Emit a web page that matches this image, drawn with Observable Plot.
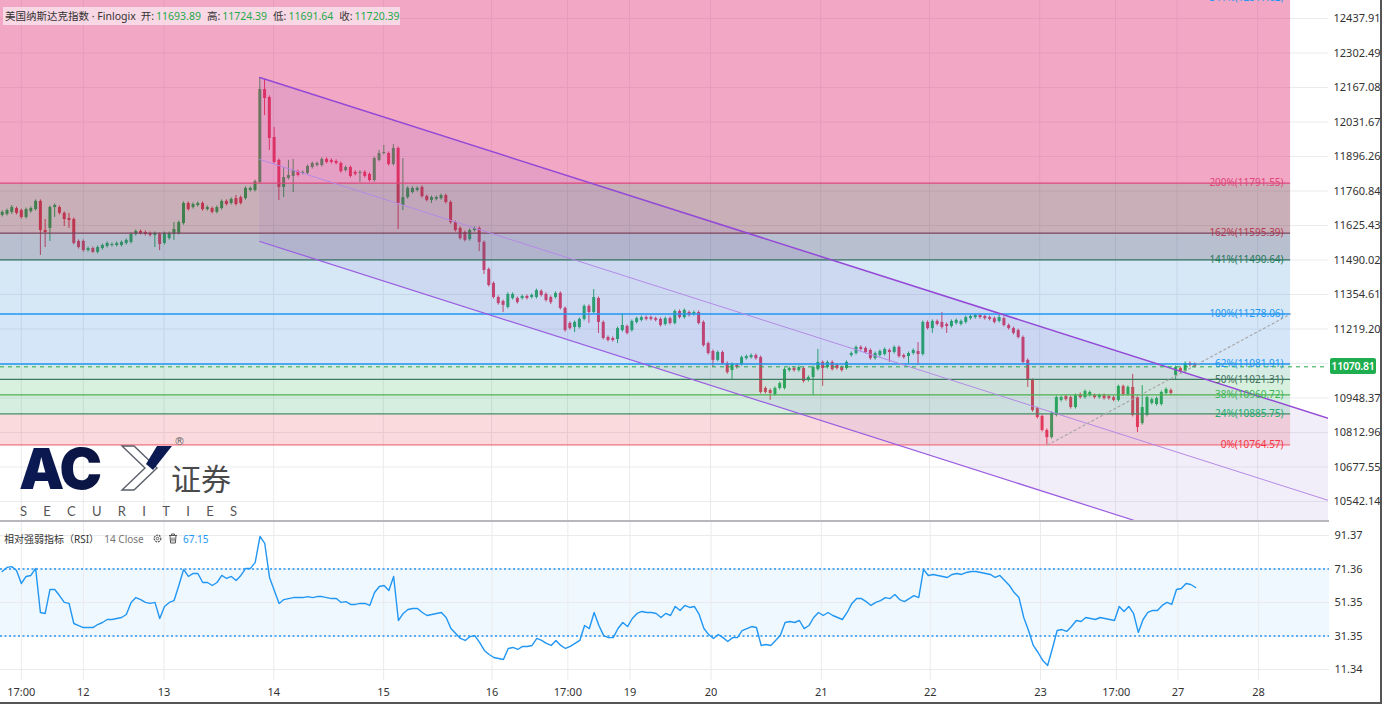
<!DOCTYPE html>
<html><head><meta charset="utf-8">
<script src="https://cdn.jsdelivr.net/npm/d3@7"></script>
<script src="https://cdn.jsdelivr.net/npm/@observablehq/plot@0.6"></script>
<style>
html,body{margin:0;padding:0;background:#fff;}
body{width:1382px;height:704px;position:relative;overflow:hidden;font-family:"Noto Sans","Noto Sans CJK SC",sans-serif;}
#main,#rsi{position:absolute;left:0;}
#main{top:0;} #rsi{top:522px;}
.ov{position:absolute;white-space:nowrap;}
.hv{margin-left:2px;margin-right:6px;color:#22ab4a;}
</style></head><body>
<div id="main"></div>
<div id="rsi"></div>
<script>
// ---------- DATA (hourly bars) ----------
const open = [
11665,11669,11677,11692,11684,11657,11680,11688,11720,11606,
11614,11696,11696,11673,11653,11649,11563,11563,11527,11535,
11520,11535,11543,11547,11547,11547,11555,11559,11590,11602,
11598,11594,11586,11590,11555,11574,11590,11594,11633,11712,
11696,11704,11712,11688,11692,11677,11692,11720,11712,11731,
11735,11731,11763,11763,11794,12159,12128,11971,11881,11775,
11810,11818,11837,11830,11830,11853,11861,11861,11885,11881,
11877,11869,11841,11853,11834,11830,11834,11826,11802,11881,
11908,11908,11865,11928,11704,11735,11755,11763,11775,11739,
11724,11728,11731,11743,11716,11637,11614,11598,11570,11606,
11614,11559,11453,11398,11343,11327,11304,11339,11339,11339,
11347,11343,11343,11367,11355,11343,11343,11359,11300,11241,
11225,11225,11257,11308,11284,11339,11245,11186,11182,11178,
11213,11229,11213,11245,11253,11264,11264,11260,11257,11237,
11260,11241,11288,11264,11284,11276,11284,11245,11162,11131,
11096,11127,11084,11056,11076,11080,11103,11107,11115,11107,
10986,10978,10962,10986,10986,11056,11064,11056,11064,11017,
11029,11060,11088,11068,11088,11076,11068,11064,11115,11123,
11147,11143,11135,11103,11115,11119,11135,11127,11147,11115,
11111,11123,11131,11119,11245,11221,11249,11245,11237,11229,
11241,11237,11245,11260,11264,11272,11268,11264,11260,11249,
11260,11233,11221,11213,11186,11096,11017,10907,10876,10821,
10793,10880,10939,10954,10950,10911,10962,10950,10958,10958,
10950,10958,10954,10950,10939,10994,10962,10990,10950,10848,
10880,10927,10923,10923,10966,10978,11037,11064,11052,11084,
11080];
const high = [
11683,11690,11704,11698,11690,11694,11698,11726,11726,11649,
11702,11710,11702,11679,11673,11655,11569,11569,11541,11541,
11545,11553,11561,11557,11561,11565,11573,11596,11608,11608,
11604,11600,11600,11596,11600,11600,11637,11643,11718,11718,
11714,11718,11718,11702,11698,11702,11726,11726,11734,11743,
11741,11777,11777,11804,12206,12199,12134,12010,11887,11853,
11881,11885,11843,11840,11863,11875,11875,11891,11891,11887,
11883,11875,11859,11859,11840,11840,11840,11832,11894,11920,
11940,11914,11943,11934,11888,11777,11777,11777,11781,11745,
11741,11741,11749,11749,11722,11643,11620,11604,11612,11620,
11620,11565,11459,11404,11349,11333,11361,11361,11345,11353,
11353,11357,11376,11373,11361,11349,11365,11365,11306,11247,
11251,11263,11314,11314,11374,11345,11251,11192,11188,11227,
11280,11235,11255,11266,11270,11270,11270,11266,11263,11266,
11266,11294,11294,11298,11290,11290,11290,11251,11168,11137,
11133,11133,11090,11086,11082,11113,11117,11121,11121,11113,
10992,10984,10992,11011,11066,11070,11070,11074,11070,11035,
11074,11139,11094,11094,11094,11082,11074,11094,11129,11153,
11153,11149,11141,11129,11137,11145,11141,11153,11153,11121,
11129,11141,11166,11251,11251,11255,11255,11284,11243,11255,
11259,11255,11270,11274,11278,11278,11274,11270,11266,11276,
11266,11239,11227,11219,11192,11102,11023,10913,10882,10827,
10894,10956,10956,10960,10956,10964,10968,10980,10976,10964,
10964,10964,10960,10956,10999,10999,10996,11041,10956,10997,
10956,10948,10952,10976,10988,10984,11074,11070,11090,11090,
11086];
const low = [
11659,11663,11669,11667,11651,11651,11674,11682,11508,11539,
11563,11657,11667,11622,11614,11549,11533,11521,11521,11516,
11514,11529,11537,11541,11541,11541,11549,11553,11584,11588,
11584,11580,11539,11527,11549,11568,11567,11588,11627,11682,
11690,11698,11682,11682,11671,11671,11686,11702,11706,11702,
11706,11725,11757,11757,11788,12057,11920,11867,11724,11735,
11804,11755,11816,11824,11824,11847,11855,11855,11867,11867,
11863,11831,11835,11812,11820,11794,11812,11796,11796,11875,
11902,11859,11859,11610,11684,11729,11749,11757,11733,11718,
11712,11722,11725,11710,11631,11600,11568,11561,11564,11600,
11523,11433,11384,11337,11313,11284,11298,11333,11317,11333,
11333,11337,11337,11345,11325,11315,11337,11294,11207,11215,
11205,11219,11251,11241,11278,11202,11176,11168,11168,11162,
11207,11196,11207,11239,11247,11251,11251,11247,11227,11231,
11235,11235,11258,11258,11266,11270,11235,11148,11117,11068,
11090,11078,11042,11021,11062,11074,11097,11101,11097,10964,
10964,10939,10956,10980,10980,11050,11050,11050,11007,11011,
10958,11054,10994,11062,11054,11058,11050,11058,11109,11117,
11133,11121,11097,11097,11109,11113,11088,11121,11105,11101,
11080,11117,11076,11113,11215,11202,11231,11219,11202,11223,
11235,11231,11239,11254,11258,11258,11254,11251,11239,11243,
11227,11215,11196,11180,11082,10990,10893,10866,10815,10764.57,
10787,10874,10933,10936,10905,10905,10944,10944,10952,10944,
10944,10940,10940,10933,10933,10956,10956,10874,10813,10842,
10874,10921,10917,10917,10960,10960,11017,11046,11046,11070,
11066];
const close = [
11677,11684,11696,11673,11657,11688,11692,11720,11606,11598,
11696,11704,11673,11649,11645,11555,11539,11527,11535,11520,
11539,11547,11555,11551,11555,11559,11567,11590,11602,11594,
11590,11586,11594,11551,11594,11594,11610,11637,11712,11688,
11708,11712,11688,11696,11677,11696,11720,11708,11728,11708,
11712,11771,11771,11798,12159,12124,11967,11873,11775,11814,
11822,11841,11822,11834,11857,11869,11869,11885,11873,11873,
11869,11837,11853,11818,11826,11834,11818,11802,11888,11908,
11912,11865,11928,11712,11735,11771,11771,11771,11739,11724,
11735,11735,11743,11716,11637,11606,11574,11567,11606,11614,
11559,11449,11390,11343,11319,11312,11355,11355,11323,11347,
11339,11351,11370,11351,11331,11323,11359,11300,11213,11221,
11245,11257,11308,11284,11343,11245,11182,11174,11174,11221,
11233,11202,11249,11260,11264,11257,11257,11253,11233,11260,
11241,11288,11264,11292,11272,11284,11241,11154,11123,11096,
11127,11084,11048,11080,11068,11107,11111,11115,11103,10970,
10970,10966,10986,11005,11060,11064,11056,11068,11013,11029,
11068,11088,11064,11088,11060,11064,11056,11088,11123,11147,
11139,11127,11103,11123,11131,11139,11127,11147,11111,11107,
11123,11135,11119,11245,11221,11249,11237,11225,11229,11249,
11253,11249,11264,11268,11272,11264,11260,11257,11245,11264,
11233,11221,11202,11186,11088,11017,10899,10872,10821,10793,
10888,10950,10950,10942,10911,10958,10950,10974,10970,10950,
10958,10946,10946,10939,10994,10962,10990,10880,10833,10911,
10950,10942,10946,10970,10982,10966,11068,11052,11084,11076,
11070.81];
const rsi = [
69.9,72.3,72.8,70.5,62.7,66.9,67.5,71.7,45.4,44.8,
59.1,59.1,55.5,51.4,50.8,38.8,37.6,36.4,36.4,36.4,
38.2,39.4,41.2,41.2,41.8,42.4,44.2,51.4,54.3,53.1,
51.4,50.8,51.4,41.8,49.0,51.4,52.5,61.5,71.1,66.9,
68.7,68.7,63.3,63.3,61.5,63.3,67.5,65.7,66.9,64.5,
67.5,71.7,71.7,75.3,90.8,86.6,66.3,58.5,50.8,53.1,
53.7,54.3,54.3,54.3,54.9,54.3,54.9,54.9,54.3,53.7,
53.7,51.4,51.9,50.2,50.2,50.8,50.8,49.6,57.3,60.9,
61.5,58.5,66.9,40.6,44.8,47.2,47.8,47.8,45.4,43.6,
44.2,44.8,45.4,42.4,35.8,32.8,29.9,28.7,31.0,31.6,
27.5,22.7,20.3,18.5,17.9,17.3,23.9,24.5,23.3,25.1,
25.1,25.7,29.9,28.7,26.9,25.7,28.7,25.7,23.9,25.1,
26.9,28.7,37.6,35.8,45.4,37.6,31.6,30.4,30.4,35.8,
39.4,37.0,41.8,44.8,46.0,45.4,45.4,44.8,42.4,44.8,
43.6,49.0,46.6,49.6,48.4,49.0,44.2,35.8,32.2,29.9,
32.2,30.4,28.1,30.4,30.4,34.6,35.8,37.0,36.4,25.7,
26.3,25.7,28.7,31.6,39.4,40.0,39.4,40.6,35.8,37.6,
42.4,45.4,43.6,45.4,43.6,42.4,41.2,45.4,50.8,53.7,
53.7,51.9,49.6,51.4,52.5,54.3,53.7,56.1,53.1,51.9,
53.7,55.5,54.3,71.1,67.5,68.1,67.5,66.9,66.3,68.1,
68.7,68.1,69.3,69.9,69.9,69.3,68.7,68.1,66.3,67.5,
64.5,61.5,57.3,54.3,42.4,34.6,25.7,21.5,16.7,13.7,
23.9,34.6,35.2,34.1,37.0,40.6,40.0,42.4,41.8,41.2,
42.4,41.8,41.2,40.6,49.0,46.0,49.0,44.8,33.5,41.2,
45.4,46.6,46.6,49.6,51.4,50.2,59.1,59.7,62.7,62.1,
60.3];

const timeTickPos = [4, 17, 33.9, 56.9, 79.9, 102.6, 118.5, 131.5, 148.5, 171.6, 194.4, 217.5, 233.4, 246.3, 263.2];
const timeTickLabels = ["17:00","12","13","14","15","16","17:00","19","20","21","22","23","17:00","27","28"];
const priceTicks = [12437.91,12302.49,12167.08,12031.67,11896.26,11760.84,11625.43,11490.02,11354.61,11219.20,11083.79,10948.37,10812.96,10677.55,10542.14];
const rsiTicks = [91.37, 71.36, 51.35, 31.35, 11.34];
const rsiBand = [31.35, 71.36];

const fibLabels = ["0%","24%","38%","50%","62%","100%","141%","162%","200%","341%"];
const fibPrices = [10764.57,10885.75,10960.72,11021.31,11081.91,11278.06,11490.64,11595.39,11791.55,12517.62];
const fibBandFill = ["rgba(235,70,85,0.2)","rgba(45,170,100,0.2)","rgba(60,185,90,0.2)","rgba(50,155,120,0.2)",
  "rgba(40,130,220,0.2)","rgba(50,135,210,0.2)","rgba(78,95,135,0.4)","rgba(120,58,78,0.4)","rgba(223,38,110,0.4)"];
const fibLineColor = ["#f26d7d","#3f8f67","#4caf50","#3d7a5f","#2196f3","#2196f3","#2e6e5c","#7d3f57","#e0457b","#2196f3"];
const fibTextColor = ["#f23645","#22a96b","#3cb554","#43705c","#2196f3","#2196f3","#1f7a58","#b23b55","#e0457b","#2196f3"];
const fibRange = [-1, 270.1];           // bar index span of the fib box
const channelUpper = [[54, 12206.4], [278.05, 10868.2]];
const channelWidth = 643.7;
const trendLine = [[219.2, 10764.57], [270.1, 11278.06]];
const lastPrice = 11070.81;

const header = {name: "美国纳斯达克指数 · Finlogix", o: "11693.89", h: "11724.39", l: "11691.64", c: "11720.39"};
const rsiHeader = {title: "相对强弱指标（RSI）", params: "14 Close", value: "67.15"};

// ---------- BUILD ----------
const FONT = '"Noto Sans","Noto Sans CJK SC",sans-serif';
const UP = "#1fae4f", DOWN = "#ee3350";
const X_DOMAIN = [-0.36, 278.05];
const bars = open.map((o, i) => ({i, o, h: high[i], l: low[i], c: close[i]}));
const candleColor = d => d.c >= d.o ? UP : DOWN;
const bands = fibBandFill.map((f, k) => ({lo: fibPrices[k], hi: fibPrices[k + 1], fill: f}));
const levels = fibPrices.map((p, k) => ({price: p, label: fibLabels[k] + "(" + p.toFixed(2) + ")", stroke: fibLineColor[k], color: fibTextColor[k]}));
const chan = channelUpper.map(([x, y]) => ({x, upper: y, mid: y - channelWidth / 2, lower: y - channelWidth}));
const gridColor = "#ebebee";
// the axis label hidden under the last-price badge is not printed
const shownPriceTicks = priceTicks.filter(p => Math.abs(p - lastPrice) > 30);

const main = Plot.plot({
  width: 1382, height: 521, marginLeft: 0, marginRight: 54, marginTop: 0, marginBottom: 0,
  x: {domain: X_DOMAIN, axis: null},
  y: {domain: [10463.7, 12508.6], axis: null},
  style: {fontFamily: FONT, background: "transparent", overflow: "visible"},
  marks: [
    Plot.ruleY(priceTicks, {stroke: gridColor}),
    Plot.ruleX(timeTickPos, {stroke: gridColor}),
    Plot.ruleX(bars, {x: "i", y1: "l", y2: "h", stroke: candleColor, strokeWidth: 1}),
    Plot.ruleX(bars, {x: "i", y1: "o", y2: "c", stroke: candleColor, strokeWidth: 3}),
    Plot.rect(bands, {x1: () => fibRange[0], x2: () => fibRange[1], y1: "lo", y2: "hi", fill: "fill", clip: true}),
    Plot.areaY(chan, {x: "x", y1: "lower", y2: "upper", fill: "#7e57c2", fillOpacity: 0.1, clip: true}),
    Plot.ruleY(levels.slice(0, -1), {y: "price", x1: () => fibRange[0], x2: () => fibRange[1], stroke: "stroke", strokeWidth: 1.3, clip: true}),
    Plot.line(chan, {x: "x", y: "upper", stroke: "#9448d6", strokeWidth: 1.5, clip: true}),
    Plot.line(chan, {x: "x", y: "mid", stroke: "#b48ae6", strokeWidth: 1, clip: true}),
    Plot.line(chan, {x: "x", y: "lower", stroke: "#9a5ce0", strokeWidth: 1.2, clip: true}),
    Plot.line(trendLine, {stroke: "#a8a8a8", strokeWidth: 1.2, strokeDasharray: "2,3"}),
    Plot.ruleY([lastPrice], {stroke: "#22ab4a", strokeWidth: 1, strokeDasharray: "4,4"}),
    Plot.text(levels, {x: () => fibRange[1], y: "price", text: "label", fill: "color", textAnchor: "end", dx: -7, fontSize: 10}),
    Plot.text(shownPriceTicks, {y: d => d, frameAnchor: "right", text: d => d.toFixed(2), textAnchor: "start", dx: 5, fill: "#333", fontSize: 11})
  ]
});
document.getElementById("main").appendChild(main);

const labelOf = new Map(timeTickPos.map((p, k) => [p, timeTickLabels[k]]));
const rsiPlot = Plot.plot({
  width: 1382, height: 182, marginLeft: 0, marginRight: 53, marginTop: 0, marginBottom: 24,
  x: {domain: X_DOMAIN},
  y: {domain: [4.77, 99.13], axis: null},
  style: {fontFamily: FONT, background: "transparent", overflow: "visible"},
  marks: [
    Plot.rect([{lo: rsiBand[0], hi: rsiBand[1]}], {x1: () => X_DOMAIN[0], x2: () => X_DOMAIN[1], y1: "lo", y2: "hi", fill: "rgba(33,150,243,0.07)"}),
    Plot.ruleY(rsiTicks, {stroke: gridColor}),
    Plot.ruleX(timeTickPos, {stroke: gridColor}),
    Plot.ruleY(rsiBand, {stroke: "#2196f3", strokeWidth: 1.5, strokeDasharray: "2,2.5"}),
    Plot.line(rsi, {x: (d, i) => i, y: d => d, stroke: "#2196f3", strokeWidth: 1.4}),
    Plot.text(rsiTicks, {y: d => d, frameAnchor: "right", text: d => d.toFixed(2), textAnchor: "start", dx: 5, fill: "#333", fontSize: 11}),
    Plot.axisX(timeTickPos, {tickFormat: d => labelOf.get(d), tickSize: 0, tickPadding: 8, fontSize: 11, fill: "#333", label: null})
  ]
});
document.getElementById("rsi").appendChild(rsiPlot);

// ---------- overlays ----------
const yMain = main.scale("y");
const py = yMain.apply(lastPrice);
const body = document.body;
function add(html){ const t = document.createElement("div"); t.innerHTML = html; while (t.firstChild) body.appendChild(t.firstChild); }
add(`<div class="ov" style="left:1330px;top:${py - 8}px;width:46px;height:16px;background:#1fae4f;border-radius:2px;color:#fff;font-size:10.5px;font-weight:600;letter-spacing:-0.2px;line-height:16px;text-align:center;">${lastPrice.toFixed(2)}</div>`);
add(`<div class="ov" style="left:3px;top:7px;height:18px;padding:0 1px 0 2px;background:rgba(255,255,255,0.55);font-size:10.5px;line-height:18px;color:#333;"><span style="margin-right:5px">${header.name}</span>开:<span class="hv">${header.o}</span>高:<span class="hv">${header.h}</span>低:<span class="hv">${header.l}</span>收:<span class="hv" style="margin-right:0">${header.c}</span></div>`);
add(`<div class="ov" style="left:4px;top:531px;font-size:10px;line-height:16px;color:#333;">${rsiHeader.title}&nbsp;&nbsp;<span style="color:#777">${rsiHeader.params}</span>&nbsp;&nbsp;
<svg width="11" height="11" viewBox="0 0 12 12" style="vertical-align:-1px"><circle cx="6" cy="6" r="3.6" fill="none" stroke="#555" stroke-width="1.4" stroke-dasharray="2 1"/><circle cx="6" cy="6" r="1.4" fill="none" stroke="#555" stroke-width="1"/></svg>&nbsp;
<svg width="10" height="11" viewBox="0 0 10 11" style="vertical-align:-1px"><path d="M1 2.5h8M3.5 2.5V1h3v1.5M2 2.5l.6 7.5h4.8L8 2.5M4 4.5v4M6 4.5v4" fill="none" stroke="#555" stroke-width="1"/></svg>&nbsp;
<span style="color:#2196f3">${rsiHeader.value}</span></div>`);
// pane separator and borders
add(`<div class="ov" style="left:0;top:520px;width:1329px;height:2px;background:#b8b8bc;"></div>`);
add(`<div class="ov" style="left:0;top:702px;width:1382px;height:2px;background:#555;"></div>`);
add(`<div class="ov" style="left:1380px;top:0;width:2px;height:704px;background:#555;"></div>`);
// logo
add(`<svg class="ov" style="left:0;top:425px;" width="260" height="95" viewBox="0 425 260 95">
<defs><linearGradient id="navy" x1="0" x2="1"><stop offset="0" stop-color="#0a1a56"/><stop offset="1" stop-color="#0b1440"/></linearGradient></defs>
<text x="19" y="489" font-family="Inter,sans-serif" font-weight="900" font-size="57" letter-spacing="-2" fill="url(#navy)">AC</text>
<path d="M122 446h12l23 22-23 22h-12l23-22z" fill="#fff" stroke="#5a5f6a" stroke-width="1.4"/>
<path d="M157 446h15l-19 24-7-6z" fill="#0b1a52"/>
<text x="174" y="445" font-family="DejaVu Sans,sans-serif" font-size="11" fill="#666">®</text>
<text x="171" y="490" font-family="Noto Sans CJK SC" font-size="30" fill="#4a4a4a">证券</text>
<text x="20" y="515.5" font-family="Lato,sans-serif" font-size="13" fill="#555" textLength="217" lengthAdjust="spacing">SECURITIES</text>
</svg>`);
</script>
</body></html>
